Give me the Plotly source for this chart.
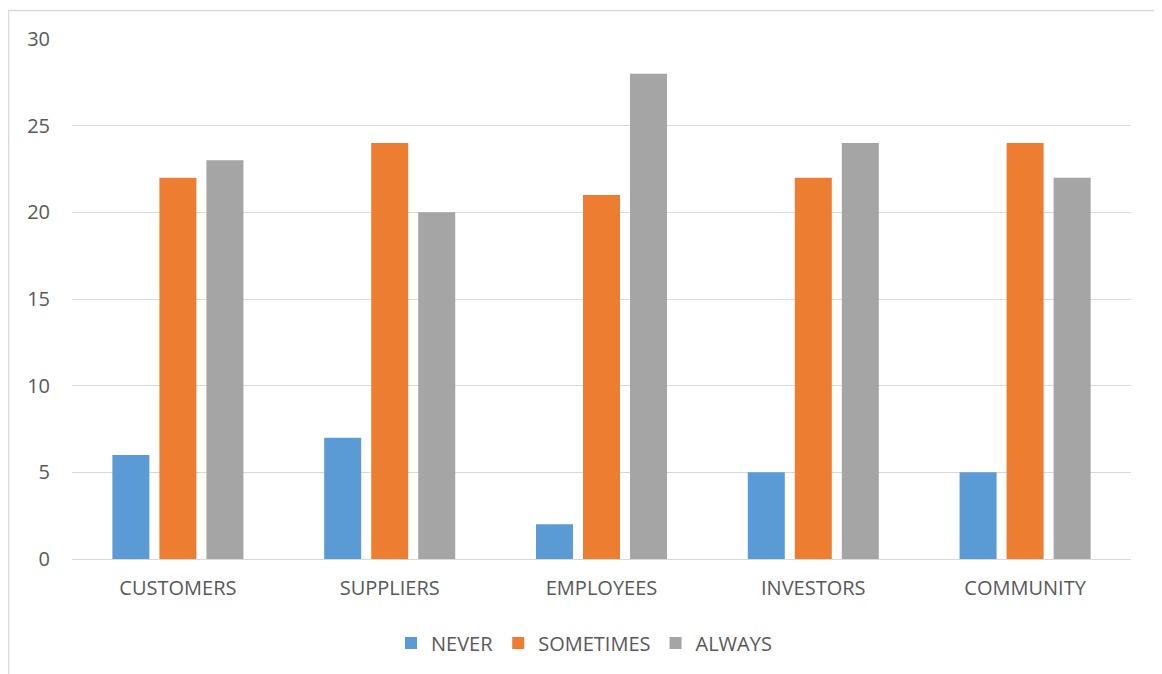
import plotly.graph_objects as go

categories = ["CUSTOMERS", "SUPPLIERS", "EMPLOYEES", "INVESTORS", "COMMUNITY"]
never = [6, 7, 2, 5, 5]
sometimes = [22, 24, 21, 22, 24]
always = [23, 20, 28, 24, 22]
y_ticks = [0, 5, 10, 15, 20, 25, 30]

FONT = "Open Sans"
TXT = "#595959"
OFF = 8  # page body margin

fig = go.Figure()
for name, vals, col in [("NEVER", never, "#5B9BD5"),
                        ("SOMETIMES", sometimes, "#ED7D31"),
                        ("ALWAYS", always, "#A5A5A5")]:
    fig.add_trace(go.Bar(x=categories, y=vals, name=name, marker_color=col,
                         marker_line_width=0))

W, H = 1162 - OFF, 674 - OFF
L, R, T, B = 72 - OFF, 31, 39 - OFF, 115
pw, ph = W - L - R, H - T - B

def px_x(x):
    return (x - OFF - L) / pw

def px_y(y):
    return (H - B - (y - OFF)) / ph

fig.update_layout(
    width=W, height=H,
    margin=dict(l=L, r=R, t=T, b=B),
    plot_bgcolor="white", paper_bgcolor="white",
    barmode="group", bargap=0.334, bargroupgap=0.213,
    font=dict(family=FONT, size=20, color=TXT),
    showlegend=True,
    legend=dict(orientation="h", x=px_x(584), xanchor="center", y=px_y(643),
                yanchor="middle", font=dict(size=20, color=TXT),
                itemwidth=30, traceorder="normal"),
    xaxis=dict(showgrid=False, showline=True, linecolor="#D9D9D9", linewidth=1,
               ticks="", tickfont=dict(size=20, color=TXT), ticklabelstandoff=11),
    yaxis=dict(range=[0, 30], tickvals=y_ticks, showgrid=True,
               gridcolor="#D9D9D9", gridwidth=1, zeroline=False, showline=False,
               ticks="", tickfont=dict(size=20, color=TXT), ticklabelstandoff=21),
    shapes=[dict(type="rect", xref="paper", yref="paper",
                 x0=px_x(8.5), x1=px_x(1160), y0=px_y(720), y1=px_y(10.5),
                 line=dict(color="#D9D9D9", width=1.5), fillcolor="rgba(0,0,0,0)",
                 layer="below")],
)

fig.write_html("out.html")
